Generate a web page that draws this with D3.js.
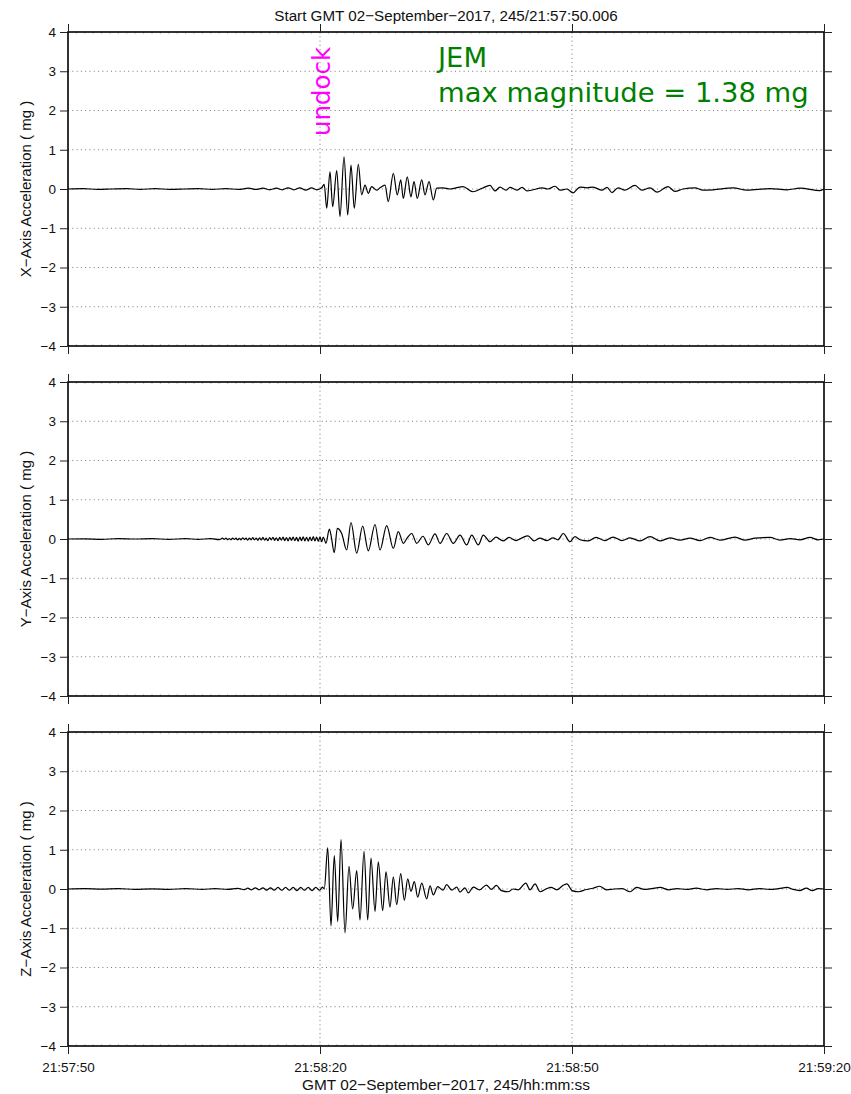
<!DOCTYPE html>
<html>
<head>
<meta charset="utf-8">
<script src="https://cdn.jsdelivr.net/npm/d3@7"></script>
<style>
  body { margin: 0; background: #fff; }
  svg text { font-family: "Liberation Sans", Arial, Helvetica, sans-serif; }
</style>
</head>
<body>
<svg id="chart" width="851" height="1094"></svg>
<script>
/*
 * JEM undock acceleration plot, 3 axes
 * data is [seconds after 21:57:50, mg]
 */

var xAxisData = [
  [0, 0.00], [1.8, 0.01], [3.5, -0.01], [5.2, 0.00], [7.0, 0.01], [8.6, -0.01], [10.4, 0.01],
  [12.1, -0.01], [13.9, 0.00], [15.5, 0.01], [17.2, -0.01], [18.8, 0.01], [20.3, -0.01],
  [21.5, 0.02], [22.4, -0.01], [23.2, 0.02], [24.0, -0.02], [24.8, 0.02], [25.5, -0.02],
  [26.2, 0.03], [26.9, -0.02], [27.6, 0.03], [28.3, -0.03], [29.0, 0.03], [29.6, -0.02],
  [30.2, 0.03], [30.5, 0.12], [30.8, -0.49], [31.19, 0.44], [31.51, -0.45], [31.99, 0.47],
  [32.38, -0.70], [32.86, 0.82], [33.30, -0.66], [33.69, 0.61], [34.08, -0.49], [34.56, 0.63],
  [34.96, -0.15], [35.36, 0.10], [35.75, -0.11], [36.15, 0.06], [36.75, -0.03], [37.14, 0.03],
  [37.74, 0.10], [38.13, -0.32], [38.73, 0.40], [39.20, -0.15], [39.61, 0.23], [39.92, -0.24],
  [40.39, 0.31], [40.83, -0.20], [41.19, 0.19], [41.58, -0.24], [42.11, 0.23], [42.50, -0.15],
  [42.98, 0.19], [43.49, -0.28], [43.89, 0.02], [44.6, 0.03], [45.5, 0.00], [46.2, 0.03],
  [47.02, 0.06], [48.21, -0.07], [49.3, 0.02], [50.24, 0.09], [50.83, -0.05], [51.43, 0.05],
  [52.14, -0.03], [52.62, 0.04], [53.45, -0.03], [54.05, 0.04], [54.64, -0.05], [55.36, -0.02],
  [56.43, 0.03], [57.14, 0.00], [57.98, 0.07], [58.57, -0.03], [59.40, 0.00], [60.12, -0.10],
  [60.95, 0.05], [61.79, 0.03], [62.50, 0.05], [63.57, -0.03], [64.17, 0.04], [64.76, -0.09],
  [65.48, 0.03], [66.31, -0.03], [67.50, 0.09], [68.33, -0.03], [69.29, 0.03], [70.12, -0.08],
  [71.43, 0.06], [72.26, -0.06], [73.21, 0.00], [74.64, 0.03], [75.60, -0.03], [76.79, -0.02],
  [79.17, 0.03], [80.83, -0.03], [83.57, 0.01], [85.60, -0.02], [87.14, 0.02], [89.52, -0.04],
  [90, 0.00]
];

var yAxisData = [
  [0, 0.00], [2, 0.005], [4, -0.01], [6, 0.01], [8, 0.00], [10, 0.01], [12, -0.01], [14, 0.01],
  [15.5, -0.01], [17, 0.01], [18, -0.015],
  [18.4, 0.02], [18.6, -0.01], [18.8, 0.02], [19.0, -0.02], [19.2, 0.01], [19.4, -0.02],
  [19.6, 0.025], [19.8, -0.01], [20.0, 0.02], [20.2, -0.025], [20.4, 0.015], [20.6, -0.02],
  [20.8, 0.03], [21.0, -0.015], [21.2, 0.02], [21.4, -0.03], [21.6, 0.025], [21.8, -0.02],
  [22.0, 0.035], [22.2, -0.02], [22.4, 0.02], [22.6, -0.035], [22.8, 0.03], [23.0, -0.025],
  [23.2, 0.04], [23.4, -0.03], [23.6, 0.02], [23.8, -0.04], [24.0, 0.035], [24.2, -0.02],
  [24.4, 0.045], [24.6, -0.035], [24.8, 0.03], [25.0, -0.045], [25.2, 0.04], [25.4, -0.03],
  [25.6, 0.05], [25.8, -0.04], [26.0, 0.035], [26.2, -0.05], [26.4, 0.045], [26.6, -0.035],
  [26.8, 0.05], [27.0, -0.045], [27.2, 0.04], [27.4, -0.055], [27.6, 0.05], [27.8, -0.04],
  [28.0, 0.055], [28.2, -0.05], [28.4, 0.045], [28.6, -0.055], [28.8, 0.05], [29.0, -0.045],
  [29.2, 0.06], [29.4, -0.05], [29.6, 0.05], [29.8, -0.06], [30.0, 0.055], [30.2, -0.07],
  [30.39, 0.05], [30.71, -0.11], [31.11, 0.25], [31.31, 0.10], [31.70, -0.35], [32.06, 0.27],
  [32.58, 0.14], [33.18, -0.28], [33.69, 0.42], [34.37, -0.36], [35.08, 0.33], [35.75, -0.30],
  [36.55, 0.37], [37.14, -0.28], [37.94, 0.34], [38.73, -0.24], [39.32, 0.19], [39.92, -0.11],
  [40.36, 0.02], [40.92, 0.14], [41.51, -0.11], [42.26, 0.07], [42.89, -0.15], [43.69, 0.13],
  [44.29, -0.11], [45.08, 0.14], [45.87, -0.11], [46.67, 0.10], [47.46, -0.15], [48.06, 0.10],
  [48.85, -0.15], [49.44, 0.10], [50.24, -0.07], [50.95, 0.05], [51.79, -0.05], [52.50, 0.04],
  [53.33, -0.04], [54.05, 0.03], [54.76, 0.08], [55.48, -0.05], [56.19, 0.02], [57.02, -0.04],
  [57.74, 0.03], [58.33, -0.02], [58.96, 0.14], [59.76, -0.07], [60.36, 0.06], [60.95, -0.02],
  [61.90, -0.05], [62.86, 0.04], [63.93, -0.04], [64.88, 0.05], [65.95, -0.04], [66.90, 0.03],
  [68.10, -0.05], [69.29, 0.06], [70.48, -0.05], [71.67, 0.03], [72.86, -0.03], [74.05, 0.02],
  [75.24, -0.04], [76.43, 0.04], [77.62, -0.03], [79.40, 0.05], [80.60, -0.03], [81.79, 0.02],
  [83.57, 0.04], [84.76, -0.03], [85.95, 0.01], [87.14, -0.02], [88.33, 0.04], [89.29, -0.02],
  [90, 0.00]
];

var zAxisData = [
  [0, 0.00], [2, 0.01], [4, -0.005], [6, 0.01], [8, -0.01], [10, 0.005], [12, -0.01], [14, 0.01],
  [16, -0.01], [17.5, 0.01], [19, -0.01], [20.2, 0.015], [21.0, -0.015],
  [21.4, 0.02], [21.85, -0.02], [22.3, 0.03], [22.75, -0.02], [23.2, 0.03], [23.65, -0.03],
  [24.1, 0.03], [24.55, -0.03], [25.0, 0.04], [25.45, -0.03], [25.9, 0.04], [26.35, -0.03],
  [26.8, 0.04], [27.25, -0.04], [27.7, 0.04], [28.15, -0.03], [28.6, 0.04], [29.05, -0.04],
  [29.5, 0.04], [29.95, -0.03], [30.3, 0.05],
  [30.51, 0.00], [30.92, 1.05], [31.31, -0.94], [31.70, 0.85], [32.11, -0.83], [32.50, 1.26],
  [32.98, -1.12], [33.45, 0.58], [33.89, -0.51], [34.37, 0.47], [34.76, -0.79], [35.24, 0.96],
  [35.68, -0.79], [36.07, 0.79], [36.55, -0.57], [36.94, 0.69], [37.46, -0.55], [37.86, 0.44],
  [38.33, -0.46], [38.73, 0.31], [39.13, -0.40], [39.61, 0.39], [40.04, -0.29], [40.44, 0.26],
  [40.83, -0.06], [41.23, 0.19], [41.63, -0.21], [42.11, 0.15], [42.70, -0.25], [43.10, 0.08],
  [43.49, -0.15], [44.01, 0.06], [44.64, -0.03], [45.08, 0.11], [45.68, -0.03], [46.27, 0.05],
  [46.67, -0.08], [47.26, 0.03], [47.65, -0.10], [48.25, 0.05], [49.0, -0.02], [49.8, 0.10],
  [50.4, -0.01], [51.0, 0.09], [51.6, -0.04], [52.4, -0.07], [53.0, 0.00], [53.6, -0.02],
  [54.5, 0.15], [55.0, -0.02], [55.6, 0.13], [56.2, -0.07], [56.9, 0.00], [57.5, 0.04],
  [58.2, -0.02], [59.0, 0.10], [59.4, 0.13], [60.0, -0.04], [60.8, -0.07], [61.6, -0.02],
  [62.5, 0.02], [63.3, 0.07], [64.1, -0.02], [65.0, 0.00], [66.0, 0.01], [66.9, -0.07],
  [67.7, 0.04], [68.6, -0.01], [69.5, 0.01], [70.5, 0.04], [71.5, -0.02], [72.5, 0.01],
  [73.6, -0.01], [74.8, 0.02], [76.0, -0.02], [77.2, 0.01], [78.5, -0.01], [79.8, 0.01],
  [81.0, -0.02], [82.3, 0.01], [83.5, -0.01], [84.6, 0.01], [85.6, 0.04], [86.3, -0.01],
  [87.1, -0.04], [87.9, 0.02], [88.6, -0.04], [89.3, 0.01], [90, 0.00]
];

var axisLabels = ["X\u2212Axis Acceleration ( mg )", "Y\u2212Axis Acceleration ( mg )", "Z\u2212Axis Acceleration ( mg )"];
var timeTicks = [0, 30, 60, 90];      // seconds after start
var timeGrid = [30, 60];
var mgTicks = [-4, -3, -2, -1, 0, 1, 2, 3, 4];
var mgGrid = [-3, -2, -1, 0, 1, 2, 3];
var eventTime = 30;
var eventLabel = "undock";
var noteLines = ["JEM", "max magnitude = 1.38 mg"];
var titleText = "Start GMT 02\u2212September\u22122017, 245/21:57:50.006";
var xTitleText = "GMT 02\u2212September\u22122017, 245/hh:mm:ss";

var startMs = Date.UTC(2017, 8, 2, 21, 57, 50);
function toDate(sec) { return new Date(startMs + sec * 1000); }

var plotLeft = 68, plotRight = 824;
var panelTops = [32, 382, 732];
var panelHeight = 314;

var svg = d3.select("#chart");
var x = d3.scaleUtc().domain([toDate(0), toDate(90)]).range([plotLeft, plotRight]);
var fmtTime = d3.utcFormat("%H:%M:%S");
function fmtMg(d) { return d < 0 ? "\u2212" + (-d) : "" + d; }

function styleAxis(g) {
  g.select(".domain").remove();
  g.selectAll(".tick line").attr("stroke", "#222");
  g.selectAll("text").attr("font-family", null).attr("font-size", 13.5).attr("fill", "#111");
}

/*
 * one panel: grid, trace, frame, ticks
 */
function drawPanel(i, data) {
  var top = panelTops[i];
  var y = d3.scaleLinear().domain([-4, 4]).range([top + panelHeight, top]);
  var g = svg.append("g");

  // dotted grid
  g.selectAll(".hgrid").data(mgGrid).enter().append("line")
    .attr("x1", plotLeft).attr("x2", plotRight)
    .attr("y1", function(d){ return y(d); }).attr("y2", function(d){ return y(d); })
    .attr("stroke", "#777").attr("stroke-width", 1).attr("stroke-dasharray", "1,3.3");
  g.selectAll(".vgrid").data(timeGrid).enter().append("line")
    .attr("x1", function(d){ return x(toDate(d)); }).attr("x2", function(d){ return x(toDate(d)); })
    .attr("y1", top).attr("y2", top + panelHeight)
    .attr("stroke", "#777").attr("stroke-width", 1).attr("stroke-dasharray", "1,3.3");

  // trace
  var line = d3.line()
    .x(function(d){ return x(toDate(d[0])); })
    .y(function(d){ return y(d[1]); })
    .curve(d3.curveMonotoneX);
  g.append("path").datum(data).attr("d", line)
    .attr("fill", "none").attr("stroke", "#000").attr("stroke-width", 1.2);

  // minor ticks top/bottom, every second
  var minor = d3.range(1, 90);
  g.selectAll(".mt").data(minor).enter().append("line")
    .attr("x1", function(d){ return x(toDate(d)); }).attr("x2", function(d){ return x(toDate(d)); })
    .attr("y1", top).attr("y2", top + 1.8).attr("stroke", "#888").attr("stroke-width", 0.6);
  g.selectAll(".mb").data(minor).enter().append("line")
    .attr("x1", function(d){ return x(toDate(d)); }).attr("x2", function(d){ return x(toDate(d)); })
    .attr("y1", top + panelHeight - 1.8).attr("y2", top + panelHeight).attr("stroke", "#888").attr("stroke-width", 0.6);

  // frame
  g.append("rect").attr("x", plotLeft).attr("y", top)
    .attr("width", plotRight - plotLeft).attr("height", panelHeight)
    .attr("fill", "none").attr("stroke", "#000").attr("stroke-width", 1.6);

  var ticksT = timeTicks.map(toDate);
  g.append("g").attr("transform", "translate(" + plotLeft + ",0)")
    .call(d3.axisLeft(y).tickValues(mgTicks).tickSize(8).tickPadding(4).tickFormat(fmtMg))
    .call(styleAxis);
  g.append("g").attr("transform", "translate(" + plotRight + ",0)")
    .call(d3.axisRight(y).tickValues(mgTicks).tickSize(8).tickFormat(""))
    .call(styleAxis);
  g.append("g").attr("transform", "translate(0," + top + ")")
    .call(d3.axisTop(x).tickValues(ticksT).tickSize(8).tickFormat(""))
    .call(styleAxis);
  g.append("g").attr("transform", "translate(0," + (top + panelHeight) + ")")
    .call(d3.axisBottom(x).tickValues(ticksT).tickSize(8).tickPadding(8)
      .tickFormat(i == panelTops.length - 1 ? fmtTime : ""))
    .call(styleAxis);

  // y axis title
  svg.append("text")
    .attr("transform", "translate(31," + (top + panelHeight / 2) + ") rotate(-90)")
    .attr("text-anchor", "middle").attr("font-size", 15).attr("fill", "#111")
    .text(axisLabels[i]);

  return y;
}

var series = [xAxisData, yAxisData, zAxisData];
for (var i = 0; i < series.length; i++) {
  drawPanel(i, series[i]);
}

// titles
svg.append("text").attr("x", (plotLeft + plotRight) / 2).attr("y", 21)
  .attr("text-anchor", "middle").attr("font-size", 15.2).attr("fill", "#111").text(titleText);
svg.append("text").attr("x", (plotLeft + plotRight) / 2).attr("y", 1090)
  .attr("text-anchor", "middle").attr("font-size", 15.4).attr("fill", "#111").text(xTitleText);

// event marker text
svg.append("text")
  .attr("transform", "translate(" + (x(toDate(eventTime)) + 10) + ",136) rotate(-90)")
  .attr("font-size", 24.5).attr("fill", "#ff00ff")
  .style("font-family", "'DejaVu Sans'")
  .text(eventLabel);

// annotation
svg.selectAll(".note").data(noteLines).enter().append("text")
  .attr("x", 438).attr("y", function(d, k){ return 67 + k * 35; })
  .style("font-family", "'DejaVu Sans'").attr("font-size", 27.4).attr("fill", "#008000")
  .text(function(d){ return d; });
</script>
</body>
</html>
